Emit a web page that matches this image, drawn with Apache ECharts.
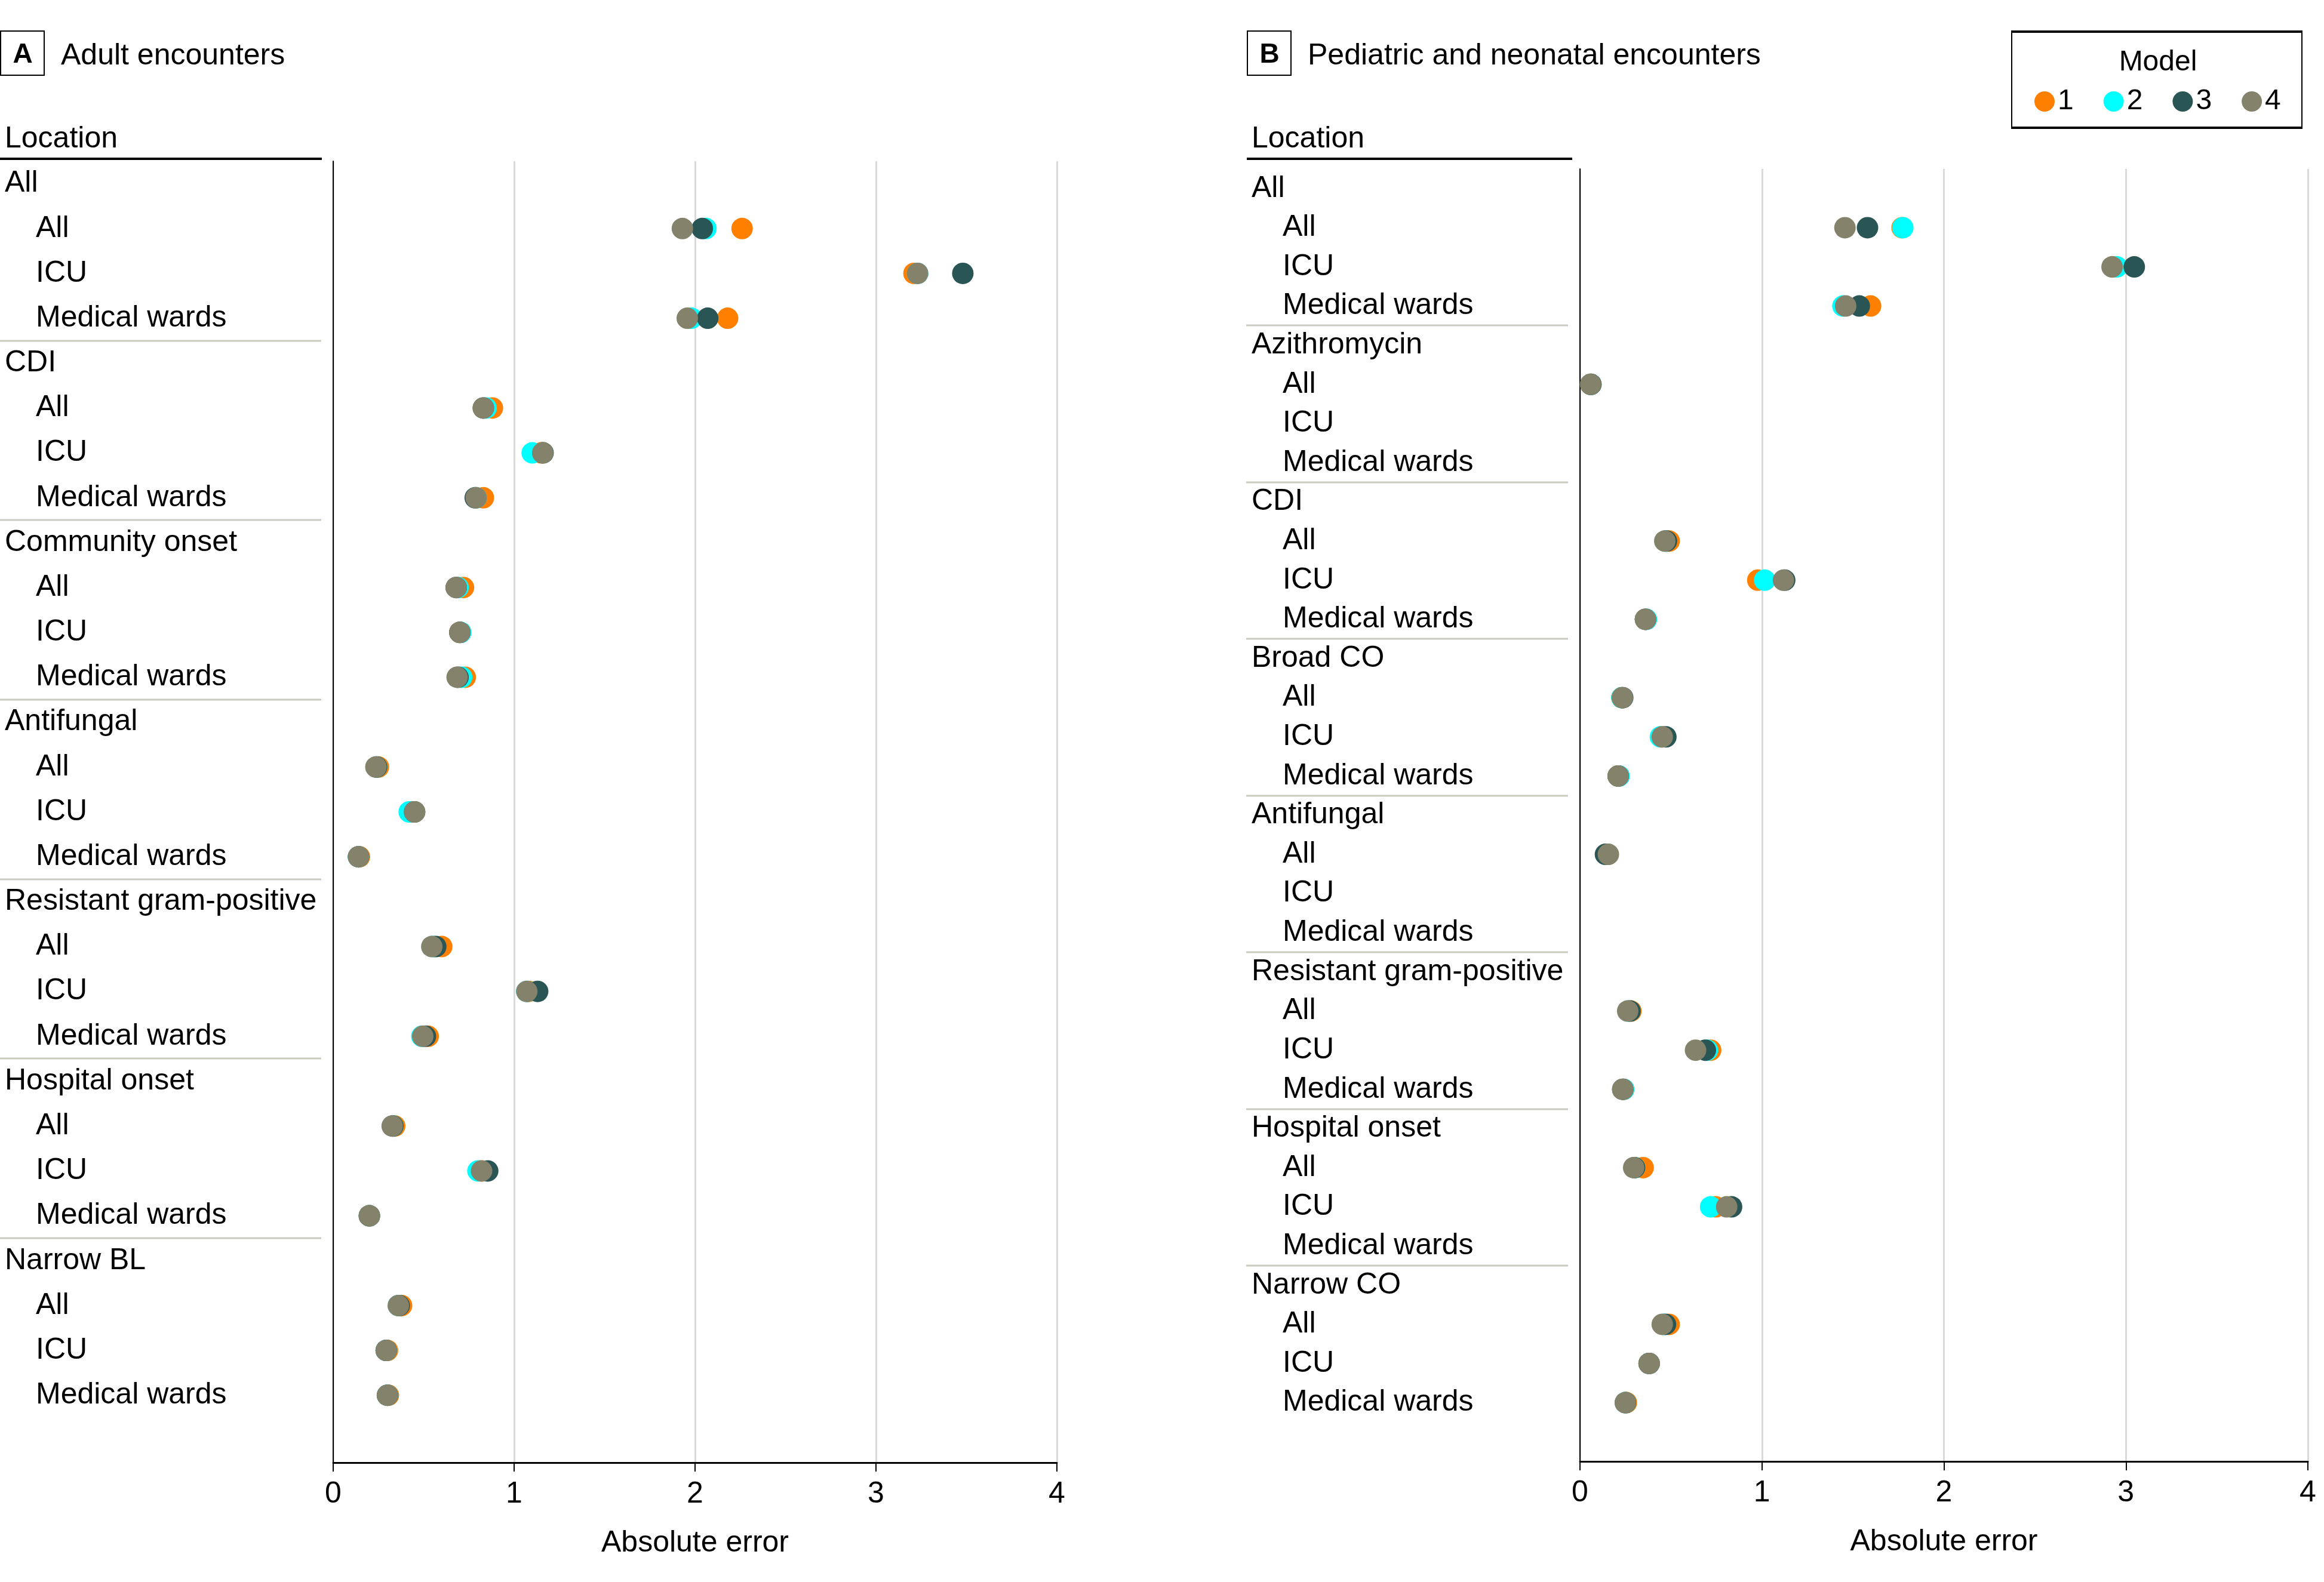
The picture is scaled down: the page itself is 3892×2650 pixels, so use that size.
<!DOCTYPE html>
<html>
<head>
<meta charset="utf-8">
<title>Absolute error by location</title>
<script src="https://cdn.jsdelivr.net/npm/echarts@6/dist/echarts.min.js"></script>
<style>
  html, body { margin: 0; padding: 0; background: #fff; }
  #chart { width: 3892px; height: 2650px; }
</style>
</head>
<body>
<div id="chart"></div>
<script>
// categories
var locations = ['All', 'ICU', 'Medical wards'];
var adultGroups = ['All', 'CDI', 'Community onset', 'Antifungal', 'Resistant gram-positive', 'Hospital onset', 'Narrow BL'];
var pedGroups = ['All', 'Azithromycin', 'CDI', 'Broad CO', 'Antifungal', 'Resistant gram-positive', 'Hospital onset', 'Narrow CO'];
var modelNames = ['1', '2', '3', '4'];
var modelColors = ['#FF8000', '#00FFFF', '#2A5555', '#84826B'];
var xTicks = [0, 1, 2, 3, 4];

// adult values, group by group (All, ICU, Medical wards)
var adultModel1 = [2.26, 3.21, 2.18, 0.88, 1.15, 0.83, 0.72, 0.70, 0.73, 0.25, 0.43, 0.145, 0.60, 1.08, 0.525, 0.34, 0.82, 0.20, 0.378, 0.30, 0.305];
var adultModel2 = [2.06, 3.23, 1.98, 0.845, 1.10, 0.79, 0.69, 0.705, 0.71, 0.24, 0.42, 0.14, 0.55, 1.07, 0.49, 0.33, 0.80, 0.20, 0.36, 0.293, 0.30];
var adultModel3 = [2.04, 3.48, 2.07, 0.83, 1.16, 0.785, 0.68, 0.70, 0.69, 0.24, 0.45, 0.14, 0.567, 1.13, 0.51, 0.33, 0.854, 0.20, 0.365, 0.293, 0.30];
var adultModel4 = [1.93, 3.23, 1.957, 0.83, 1.158, 0.79, 0.68, 0.70, 0.685, 0.236, 0.45, 0.14, 0.545, 1.07, 0.495, 0.326, 0.82, 0.20, 0.36, 0.293, 0.30];

// pediatric and neonatal values (null = no estimate)
var pedModel1 = [1.77, 2.93, 1.597, 0.06, null, null, 0.49, 0.977, 0.36, 0.23, 0.45, 0.21, 0.15, null, null, 0.28, 0.718, 0.24, 0.347, 0.746, null, 0.49, 0.38, 0.255];
var pedModel2 = [1.774, 2.95, 1.445, 0.06, null, null, 0.47, 1.015, 0.365, 0.23, 0.442, 0.215, 0.15, null, null, 0.265, 0.70, 0.24, 0.30, 0.718, null, 0.46, 0.38, 0.25];
var pedModel3 = [1.58, 3.046, 1.535, 0.06, null, null, 0.475, 1.125, 0.36, 0.235, 0.472, 0.21, 0.14, null, null, 0.275, 0.689, 0.235, 0.30, 0.833, null, 0.47, 0.38, 0.25];
var pedModel4 = [1.456, 2.924, 1.46, 0.058, null, null, 0.466, 1.118, 0.36, 0.233, 0.452, 0.21, 0.156, null, null, 0.262, 0.635, 0.235, 0.295, 0.806, null, 0.452, 0.38, 0.249];

var adultValues = [adultModel1, adultModel2, adultModel3, adultModel4];
var pedValues = [pedModel1, pedModel2, pedModel3, pedModel4];

var FONT = 'Liberation Sans';

// each group: header row + 3 location rows, plus one empty row at the bottom
function buildRows(groups) {
    var rows = [];
    groups.forEach(function (g, gi) {
        rows.push({ key: gi + '-h', text: g, header: true });
        locations.forEach(function (l, li) {
            rows.push({ key: gi + '-' + li, text: l, header: false });
        });
    });
    rows.push({ key: 'end', text: '', header: false });
    return rows;
}

var adultRows = buildRows(adultGroups);
var pedRows = buildRows(pedGroups);

function rowIndex(i) {
    return Math.floor(i / 3) * 4 + (i % 3) + 1;
}

function seriesFor(values, axisIdx) {
    return values.map(function (vals, m) {
        var pts = [];
        vals.forEach(function (v, i) {
            if (v !== null) pts.push([v, rowIndex(i)]);
        });
        return {
            name: modelNames[m],
            type: 'scatter',
            xAxisIndex: axisIdx,
            yAxisIndex: axisIdx,
            symbol: 'circle',
            symbolSize: 36,
            itemStyle: { color: modelColors[m], opacity: 1 },
            emphasis: { disabled: true },
            data: pts
        };
    });
}

function xAxisFor(idx) {
    return {
        gridIndex: idx,
        type: 'value',
        min: xTicks[0],
        max: xTicks[xTicks.length - 1],
        interval: 1,
        name: 'Absolute error',
        nameLocation: 'middle',
        nameGap: 110,
        nameTextStyle: { fontSize: 50, color: '#000', fontFamily: FONT },
        axisLine: { show: true, onZero: false, lineStyle: { color: '#000', width: 3 } },
        axisTick: { show: true, length: 15, lineStyle: { color: '#000', width: 2 } },
        axisLabel: { fontSize: 50, color: '#000', margin: 28, fontFamily: FONT },
        splitLine: { show: true, lineStyle: { color: '#d9d9d9', width: 3 } }
    };
}

function yAxisFor(idx, rows) {
    return {
        gridIndex: idx,
        type: 'category',
        inverse: true,
        data: rows.map(function (r) { return r.key; }),
        axisLine: { show: true, onZero: false, lineStyle: { color: '#000', width: 2 } },
        axisTick: { show: false },
        splitLine: { show: false },
        axisLabel: {
            interval: 0,
            align: 'left',
            margin: 550,
            fontFamily: FONT,
            formatter: function (v, i) {
                var r = rows[i];
                if (!r || !r.text) return '';
                return (r.header ? '{h|' : '{i|') + r.text + '}';
            },
            rich: {
                h: { fontSize: 50, color: '#000', fontFamily: FONT },
                i: { fontSize: 50, color: '#000', fontFamily: FONT, padding: [0, 0, 0, 52] }
            }
        }
    };
}

var chart = echarts.init(document.getElementById('chart'), null, { renderer: 'canvas' });

var option = {
    animation: false,
    backgroundColor: '#fff',
    textStyle: { fontFamily: FONT },
    grid: [
        { left: 558, top: 270, width: 1212, height: 2180 },
        { left: 2646, top: 283, width: 1219, height: 2165 }
    ],
    legend: {
        data: modelNames,
        left: 3402,
        top: 141,
        icon: 'circle',
        itemWidth: 34,
        itemHeight: 34,
        itemGap: 50,
        textStyle: { fontSize: 48, color: '#000', fontFamily: FONT }
    },
    xAxis: [xAxisFor(0), xAxisFor(1)],
    yAxis: [yAxisFor(0, adultRows), yAxisFor(1, pedRows)],
    series: seriesFor(adultValues, 0).concat(seriesFor(pedValues, 1))
};

chart.setOption(option);

// separators between groups, placed with the axis scale
function separators(axisIdx, groups, x0, x1) {
    var els = [];
    for (var g = 0; g < groups.length - 1; g++) {
        var ya = chart.convertToPixel({ yAxisIndex: axisIdx }, g * 4 + 3);
        var yb = chart.convertToPixel({ yAxisIndex: axisIdx }, g * 4 + 4);
        var y = Math.round((ya + yb) / 2);
        els.push({
            type: 'line',
            shape: { x1: x0, y1: y, x2: x1, y2: y },
            style: { stroke: '#cbcbbf', lineWidth: 3 }
        });
    }
    return els;
}

function panelHeader(letter, title, x, lineEnd) {
    return [
        { type: 'rect', shape: { x: x + 1, y: 52, width: 73, height: 74 }, style: { fill: 'none', stroke: '#000', lineWidth: 2 } },
        { type: 'text', x: x + 38, y: 92, style: { text: letter, fontSize: 46, fontWeight: 'bold', fontFamily: FONT, fill: '#000', align: 'center', verticalAlign: 'middle' } },
        { type: 'text', x: x + 102, y: 94, style: { text: title, fontSize: 50, fontFamily: FONT, fill: '#000', align: 'left', verticalAlign: 'middle' } },
        { type: 'text', x: x + 8, y: 233, style: { text: 'Location', fontSize: 50, fontFamily: FONT, fill: '#000', align: 'left', verticalAlign: 'middle' } },
        { type: 'rect', shape: { x: x, y: 264, width: lineEnd - x, height: 4 }, style: { fill: '#000' } }
    ];
}

var graphics = []
    .concat(panelHeader('A', 'Adult encounters', 0, 539))
    .concat(panelHeader('B', 'Pediatric and neonatal encounters', 2088, 2633))
    .concat(separators(0, adultGroups, 0, 538))
    .concat(separators(1, pedGroups, 2087, 2626))
    .concat([
        // legend box
        { type: 'rect', shape: { x: 3369, y: 52, width: 486, height: 163 }, style: { fill: 'none', stroke: '#000', lineWidth: 2 } },
        { type: 'line', shape: { x1: 3369, y1: 53, x2: 3855, y2: 53 }, style: { stroke: '#000', lineWidth: 4 } },
        { type: 'line', shape: { x1: 3369, y1: 214, x2: 3855, y2: 214 }, style: { stroke: '#000', lineWidth: 4 } },
        { type: 'text', x: 3614, y: 105, style: { text: 'Model', fontSize: 48, fontFamily: FONT, fill: '#000', align: 'center', verticalAlign: 'middle' } }
    ]);

chart.setOption({ graphic: graphics });
</script>
</body>
</html>
